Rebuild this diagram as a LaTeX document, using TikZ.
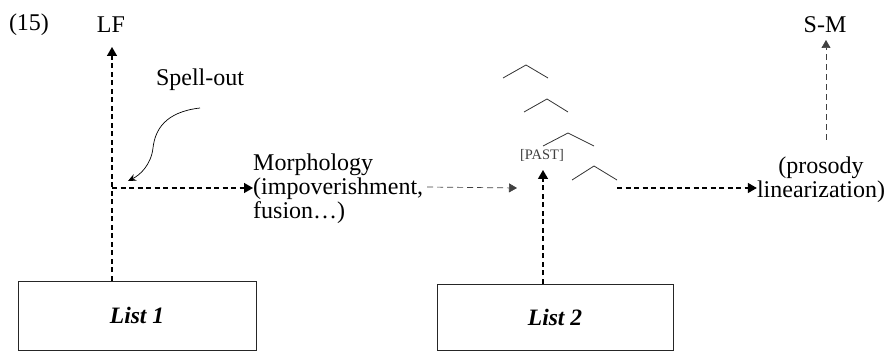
\documentclass[tikz,border=0pt]{standalone}
\usepackage{fontspec}
\setmainfont{Liberation Serif}
\usetikzlibrary{arrows.meta}
\begin{document}
\begin{tikzpicture}[x=1pt,y=-1pt,
  lbl/.style={inner sep=0pt, font=\fontsize{24}{24}\selectfont},
  listbox/.style={draw=black!85, line width=0.9pt, inner sep=0pt, font=\fontsize{23.5}{24}\selectfont\bfseries\itshape},
  thickdash/.style={line width=1.4pt, dash pattern=on 5pt off 3.5pt, -{Triangle[length=9pt,width=10pt]}},
  thindash/.style={line width=0.7pt, black!75, dash pattern=on 6pt off 4pt, -{Triangle[length=8pt,width=9pt]}},
  chev/.style={line width=0.8pt, black!80},
  curvearrow/.style={line width=0.7pt, -{Stealth[length=8pt,width=7pt]}}]
\path[use as bounding box] (0,0) rectangle (893,352);

% boxes
\node[listbox, minimum width=238pt, minimum height=69.5pt] (list1) at (137,315.75) {List 1};
\node[listbox, minimum width=236pt, minimum height=66.5pt] (list2) at (555,317.25) {List 2};

% labels
\node[lbl] (ex) at (29,25) {(15)};
\node[lbl] (lf) at (111,25) {LF};
\node[lbl] (sm) at (825,25) {S-M};
\node[lbl] (spell) at (200,80) {Spell-out};
\node[lbl, align=left, anchor=north west] (morph) at (253,153.5) {Morphology\\(impoverishment,\\fusion…)};
\node[inner sep=0pt, font=\fontsize{14.5}{15}\selectfont, text=black!75] (past) at (542,155) {[PAST]};
\node[lbl, align=center, anchor=north] (pros) at (821,156.5) {(prosody\\linearization)};

% coordinates
\coordinate (lftip) at (112,47);
\coordinate (junc) at (112,188);
\coordinate (smtip) at (826,40);
\coordinate (smfoot) at (826,140);
\coordinate (pasttip) at (543,170);
\coordinate (ptarget) at (517,188);
\coordinate (mstart) at (427,187);
\coordinate (rstart) at (617,188);
\coordinate (cstart) at (200,108);
\coordinate (ctip) at (128,181);

% connectors
\draw[thickdash] (list1.north -| junc) -- (lftip);
\draw[thickdash] (junc) -- (morph.west |- junc);
\draw[thindash] (mstart) -- (ptarget);
\draw[thickdash] (list2.north -| pasttip) -- (pasttip);
\draw[thickdash] (rstart) -- (pros.west |- rstart);
\draw[thindash] (smfoot) -- (smtip);
\draw[curvearrow] (cstart) .. controls (165,112) and (155,130) .. (153,148)
                  .. controls (151,165) and (140,175) .. (ctip);

% tree fragments
\draw[chev] (503,78) -- (526,65) -- (548,78);
\draw[chev] (524,112) -- (547,99) -- (568,112);
\draw[chev] (543,146) -- (568,133) -- (594,146);
\draw[chev] (572,180) -- (594,166) -- (617,180);
\end{tikzpicture}
\end{document}
